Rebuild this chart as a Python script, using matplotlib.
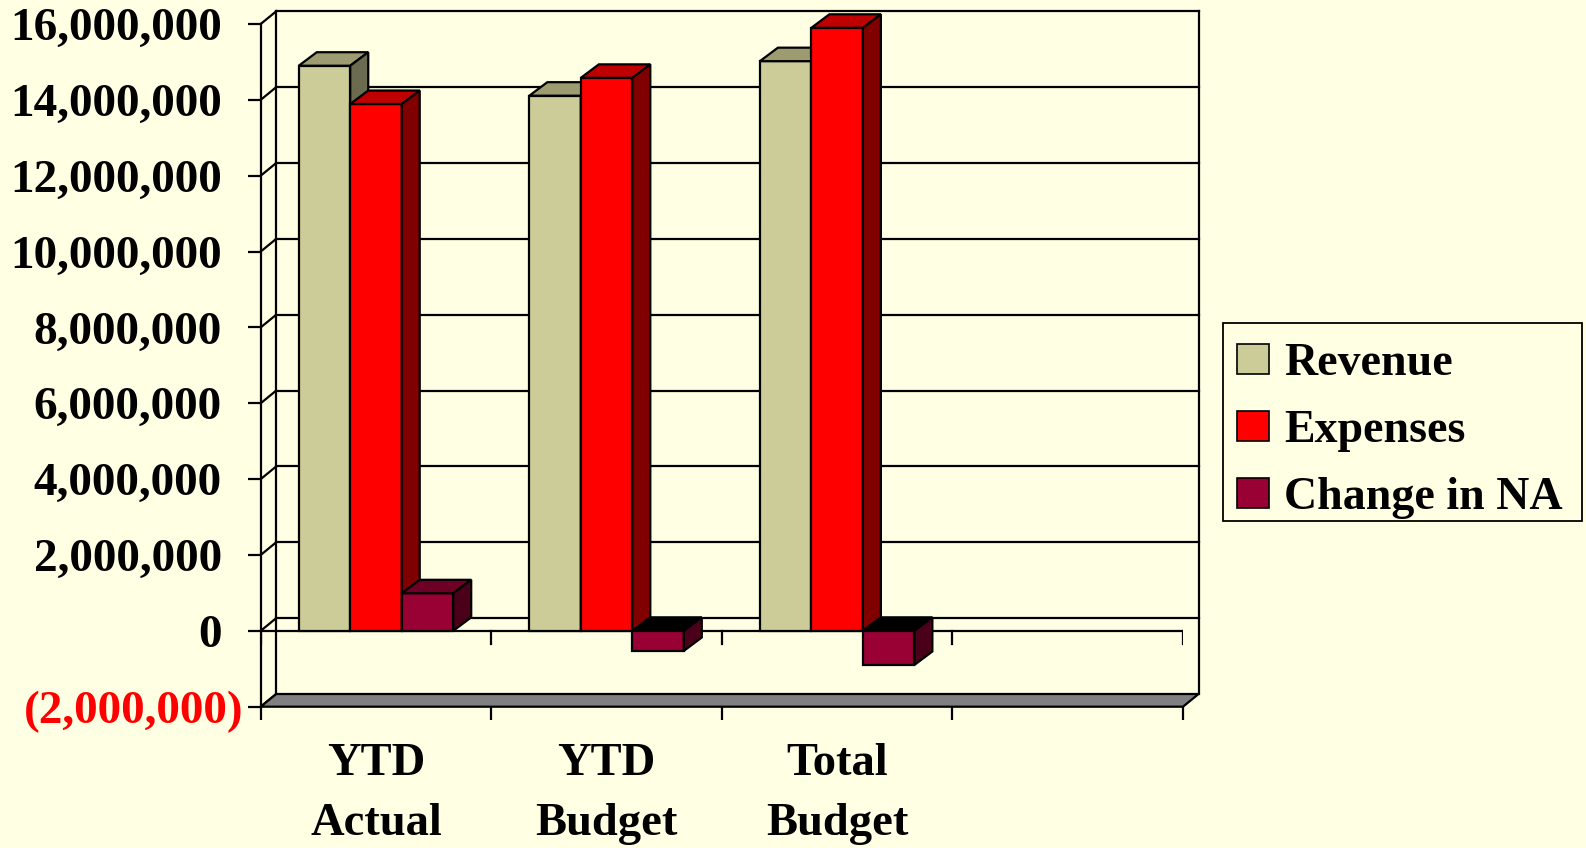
import matplotlib
matplotlib.use("Agg")
import numpy as np
import matplotlib.pyplot as plt
import matplotlib.transforms as mtransforms
from matplotlib.patches import Polygon, Patch, Rectangle

# values per category, in dollars
categories = ["YTD\nActual", "YTD\nBudget", "Total\nBudget"]
series = ["Revenue", "Expenses", "Change in NA"]
revenue = [14900000, 14110000, 15020000]
expenses = [13890000, 14580000, 15900000]
change_na = [990000, -530000, -900000]
y_ticks = list(range(-2000000, 16000001, 2000000))

front_col = ["#CCCC99", "#FF0000", "#990033"]
top_col = ["#9C9C70", "#BF0000", "#6E0026"]
side_col = ["#6B6B4F", "#800000", "#4A0019"]
bg = "#FFFFE3"

plt.rcParams["font.family"] = ["Liberation Serif", "DejaVu Serif"]
plt.rcParams["font.weight"] = "bold"

fig = plt.figure(figsize=(15.86, 8.48), dpi=100, facecolor=bg)
ax = fig.add_axes([260.7 / 1586, 141.3 / 848, 922.3 / 1586, 682.7 / 848])
ax.set_facecolor("none")
ax.set_xlim(0, 4)
ax.set_ylim(-2000000, 16000000)

# pixel -> data conversion for the fake depth
px_x = 4 / 922.3
px_y = 18000000 / 682.7
wdx, wdy = 15.5 * px_x, 12.7 * px_y   # wall depth
bdx, bdy = 18 * px_x, 13.5 * px_y     # bar depth
lw = 1.6

# walls and gridlines
wall_kw = dict(color="black", lw=lw, clip_on=False, zorder=1)
for v in y_ticks:
    ax.plot([0, wdx], [v, v + wdy], **wall_kw)
    if v >= 0:
        ax.plot([wdx, 4 + wdx], [v + wdy, v + wdy], **wall_kw)
ax.plot([wdx, wdx], [-2000000 + wdy, 16000000 + wdy], **wall_kw)
ax.plot([4 + wdx, 4 + wdx], [-2000000 + wdy, 16000000 + wdy], **wall_kw)

floor = Polygon([(0, -2000000), (4, -2000000), (4 + wdx, -2000000 + wdy), (wdx, -2000000 + wdy)],
                closed=True, fc="#808080", ec="black", lw=lw, clip_on=False, zorder=2)
ax.add_patch(floor)

# zero line with category ticks
ax.plot([0, 4], [0, 0], color="black", lw=lw, zorder=2)
for i in range(5):
    ax.plot([i, i], [0, -13 * px_y], color="black", lw=lw, zorder=2)

# bars: front face from ax.bar, top and side faces as polygons
width = 0.2233
x0 = np.arange(len(categories)) + 0.5
for j, vals in enumerate([revenue, expenses, change_na]):
    xs = x0 + (j - 1) * width
    z = 3 + j
    ax.bar(xs, vals, width=width, color=front_col[j], edgecolor="black", lw=lw, zorder=z)
    for xc, v in zip(xs, vals):
        xl, xr = xc - width / 2, xc + width / 2
        lo, hi = min(0, v), max(0, v)
        tc = top_col[j] if v >= 0 else "black"
        ax.add_patch(Polygon([(xl, hi), (xr, hi), (xr + bdx, hi + bdy), (xl + bdx, hi + bdy)],
                             closed=True, fc=tc, ec="black", lw=lw, zorder=z, clip_on=False))
        ax.add_patch(Polygon([(xr, lo), (xr, hi), (xr + bdx, hi + bdy), (xr + bdx, lo + bdy)],
                             closed=True, fc=side_col[j], ec="black", lw=lw, zorder=z, clip_on=False))

for s in ["top", "right", "bottom"]:
    ax.spines[s].set_visible(False)
ax.spines["left"].set_linewidth(lw)


def fmt(v):
    return f"({abs(v):,})" if v < 0 else f"{v:,}"


ax.set_yticks(y_ticks, [fmt(v) for v in y_ticks], fontsize=34, fontweight="bold")
ax.tick_params(axis="y", length=9.6, width=lw, pad=18.4)
for lab, v in zip(ax.get_yticklabels(), y_ticks):
    if v < 0:
        lab.set_color("red")
        lab.set_transform(lab.get_transform() + mtransforms.ScaledTranslation(0.22, 0, fig.dpi_scale_trans))

ax.set_xticks(range(5), [""] * 5)
ax.set_xticks(x0, categories, minor=True, fontsize=33.5, fontweight="bold")
ax.tick_params(axis="x", which="major", length=9.4, width=lw)
ax.tick_params(axis="x", which="minor", length=0, pad=26)
for lab in ax.get_xticklabels(minor=True):
    lab.set_linespacing(1.57)

# legend box drawn separately so the rows can sit where they belong
fig.add_artist(Rectangle((1222.7 / 1586, 1 - 520.7 / 848), 359 / 1586, 197.4 / 848,
                         transform=fig.transFigure, fc=bg, ec="black", lw=1.3, zorder=5))
handles = [Patch(fc=front_col[j], ec="black", lw=1.2, label=series[j]) for j in range(3)]
leg = fig.legend(handles=handles, loc="center left", bbox_to_anchor=(1220.7 / 1586, 1 - 430.9 / 848),
                 fontsize=33, frameon=False, handlelength=0.7, handleheight=0.63, handletextpad=0.33,
                 labelspacing=0.55, borderpad=0.35, borderaxespad=0)
leg.set_zorder(6)

fig.savefig("out.png", dpi=100, facecolor=bg)
